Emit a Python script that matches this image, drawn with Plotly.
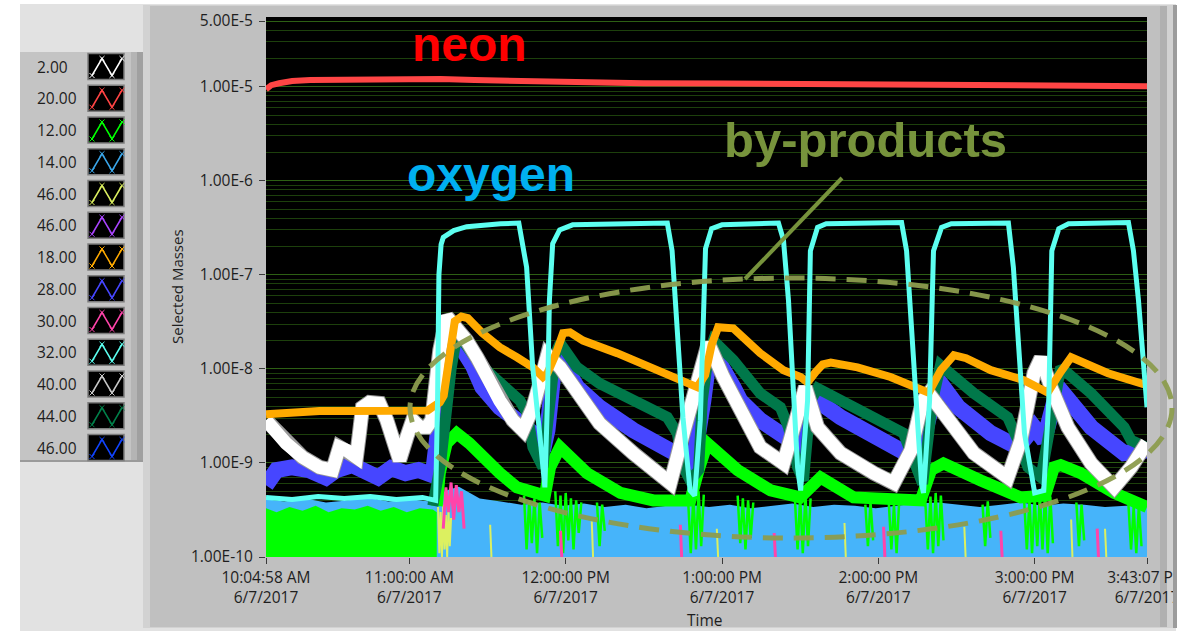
import plotly.graph_objects as go

# ---------------------------------------------------------------------------
# Mass-spectrometer trend, 6/7/2017 (times are clock times on that day)
# ---------------------------------------------------------------------------
DAY = "2017-06-07 "

# mass 20 (neon)
neon_t = ["10:04:58", "10:07", "10:10", "10:15", "10:22", "10:40", "11:00", "11:12", "11:25",
          "11:40", "12:00", "12:30", "13:00", "13:30", "14:00", "14:30", "15:00", "15:20", "15:43:07"]
neon_v = [9.4e-6, 1.04e-5, 1.09e-5, 1.15e-5, 1.18e-5, 1.19e-5, 1.21e-5, 1.21e-5, 1.18e-5,
          1.15e-5, 1.12e-5, 1.09e-5, 1.08e-5, 1.07e-5, 1.055e-5, 1.045e-5, 1.03e-5, 1.02e-5, 1.015e-5]

# mass 32 (oxygen)
o2_t = ["10:04:58", "10:15", "10:25", "10:35", "10:45", "10:55", "11:05", "11:10:05", "11:10:50",
        "11:11:20", "11:12:10", "11:13", "11:17", "11:22", "11:35", "11:42", "11:45", "11:47:20",
        "11:50", "11:52", "11:53", "11:53:45", "11:55", "11:57:40", "12:02:40", "12:39", "12:40:50",
        "12:42:45", "12:45", "12:47:45", "12:49:30", "12:51:40", "12:52:50", "12:53:40", "12:56",
        "13:00", "13:21:40", "13:23:35", "13:25:30", "13:27:30", "13:29", "13:30:10", "13:32:50",
        "13:33:55", "13:36:40", "13:40", "14:08:55", "14:10:50", "14:12:45", "14:14:40", "14:16:35",
        "14:17:20", "14:19:40", "14:21:10", "14:24:15", "14:28", "14:49:55", "14:51:50", "14:54:10",
        "14:56:05", "15:00", "15:03:30", "15:05:25", "15:06:35", "15:09:15", "15:13", "15:36",
        "15:37:55", "15:39:50", "15:42:10", "15:43:07"]
o2_v = [4.3e-10, 4.1e-10, 4.4e-10, 4.2e-10, 4.4e-10, 4.1e-10, 4.3e-10, 4.0e-10, 5e-9,
        1.0e-7, 2.1e-7, 2.5e-7, 2.95e-7, 3.25e-7, 3.5e-7, 3.55e-7, 1.2e-7, 1.04e-8,
        2.07e-9, 5.5e-10, 4.6e-9, 5.4e-8, 2.15e-7, 3.0e-7, 3.4e-7, 3.55e-7, 1.8e-7,
        2.4e-8, 3.06e-9, 5.1e-10, 4.5e-10, 2.85e-9, 5.4e-8, 1.9e-7, 3.1e-7,
        3.4e-7, 3.55e-7, 2.35e-7, 5.4e-8, 4.6e-9, 9.0e-10, 5.1e-10, 4.6e-9,
        1.8e-7, 3.2e-7, 3.5e-7, 3.6e-7, 1.8e-7, 2.4e-8, 3.06e-9, 6.0e-10,
        4.8e-10, 4.6e-9, 1.8e-7, 3.2e-7, 3.5e-7, 3.55e-7, 1.2e-7, 1.04e-8,
        2.07e-9, 4.8e-10, 5.1e-10, 4.6e-9, 1.8e-7, 3.1e-7, 3.5e-7, 3.6e-7,
        1.8e-7, 5.4e-8, 7.0e-9, 3.9e-9]

# mass 18 (water)
h2o_t = ["10:04:58", "10:14", "10:25:30", "10:37", "10:48:30", "11:00", "11:07", "11:09:20", "11:11:40",
         "11:13:10", "11:15:30", "11:17:25", "11:20", "11:22:25", "11:28", "11:34:40", "11:41:15",
         "11:47:25", "11:51:15", "11:53", "11:56", "11:59", "12:01:40", "12:06:40", "12:19:45",
         "12:32:25", "12:45", "12:50:25", "12:53:30", "12:56", "12:58:30", "13:04:20", "13:14:40",
         "13:23:35", "13:30:10", "13:32:50", "13:36", "13:38:40", "13:41:45", "13:52", "14:04:40",
         "14:16:15", "14:19:20", "14:24", "14:29", "14:33:40", "14:43:10", "14:55:50", "15:02:25",
         "15:05", "15:10", "15:14", "15:28:10", "15:42:45", "15:43:07"]
h2o_v = [3.3e-9, 3.46e-9, 3.56e-9, 3.56e-9, 3.6e-9, 3.56e-9, 3.6e-9, 4.0e-9, 4.4e-9,
         5.2e-9, 1.58e-8, 3.2e-8, 3.6e-8, 3.46e-8, 2.4e-8, 1.7e-8, 1.33e-8,
         1.04e-8, 8.2e-9, 9.0e-9, 1.4e-8, 2.4e-8, 2.45e-8, 2.0e-8, 1.47e-8,
         1.04e-8, 7.6e-9, 6.4e-9, 8.6e-9, 1.8e-8, 2.78e-8, 2.7e-8, 1.47e-8,
         9.7e-9, 8.2e-9, 7.2e-9, 9.3e-9, 1.12e-8, 1.17e-8, 1.04e-8, 8.2e-9,
         6.2e-9, 5.6e-9, 9.7e-9, 1.4e-8, 1.3e-8, 9.7e-9, 7.6e-9, 6.2e-9,
         5.6e-9, 9.3e-9, 1.33e-8, 9.0e-9, 6.8e-9, 6.7e-9]

# mass 44
co2_t = ["11:09", "11:12", "11:16", "11:18:35", "11:20:30", "11:25:50", "11:30:50", "11:37:25",
         "11:42:25", "11:45:10", "11:47:25", "11:51:15", "11:54", "11:55:55", "11:57:50", "12:04:20",
         "12:13", "12:25:55", "12:39", "12:42:50", "12:45:10", "12:47:50", "12:51", "12:52:25",
         "12:54:45", "12:56:40", "13:04:20", "13:14:40", "13:22:25", "13:25:30", "13:29", "13:31:15",
         "13:34", "13:36:40", "13:45:30", "13:58:15", "14:09:40", "14:13:35", "14:17", "14:20:50",
         "14:23:50", "14:36:40", "14:49:40", "14:53:35", "14:57:25", "15:02:25", "15:07:25", "15:10",
         "15:21:40", "15:34:20", "15:37", "15:42:45", "15:43:07"]
co2_v = [3.5e-10, 1.0e-9, 1.0e-8, 2.6e-8, 2.0e-8, 1.24e-8, 9.0e-9, 5.9e-9,
         4.6e-9, 3.4e-9, 1.47e-9, 9.0e-10, 4.6e-9, 1.4e-8, 1.88e-8, 1.04e-8,
         7.0e-9, 4.6e-9, 3.06e-9, 2.07e-9, 9.0e-10, 6.5e-10, 8.4e-10, 4.6e-9,
         1.4e-8, 2.0e-8, 1.24e-8, 5.5e-9, 3.9e-9, 2.4e-9, 9.0e-10, 6.5e-10,
         4.6e-9, 6.2e-9, 4.6e-9, 3.06e-9, 2.07e-9, 1.07e-9, 6.0e-10, 4.6e-9,
         1.09e-8, 5.5e-9, 3.06e-9, 1.74e-9, 9.0e-10, 7.0e-10, 4.6e-9, 1.04e-8,
         5.5e-9, 2.4e-9, 1.74e-9, 1.47e-9, 1.45e-9]

# mass 28
n2_t = ["10:04:58", "10:09", "10:15", "10:21:30", "10:28", "10:32", "10:38", "10:43", "10:48",
        "10:53", "10:58:30", "11:03:30", "11:09", "11:11", "11:14", "11:17", "11:20", "11:24:20",
        "11:28", "11:34:40", "11:41:15", "11:47:25", "11:51:15", "11:53", "11:55", "11:56:40",
        "12:04:20", "12:13", "12:25:55", "12:39", "12:45:10", "12:49", "12:52:50", "12:55:30",
        "13:04:20", "13:07", "13:14:40", "13:21:15", "13:26:15", "13:29:20", "13:32:50", "13:34:45",
        "13:45:30", "13:58:15", "14:08:40", "14:15:15", "14:20:15", "14:22:55", "14:30:40",
        "14:43:10", "14:53:35", "14:59:45", "15:03:35", "15:06:15", "15:09", "15:21:40",
        "15:34:20", "15:42:45", "15:43:07"]
n2_v = [5.8e-10, 8.4e-10, 9.0e-10, 8.4e-10, 7.0e-10, 8.4e-10, 9.5e-10, 8.2e-10, 7.0e-10,
        8.8e-10, 7.8e-10, 8.4e-10, 7.4e-10, 2.2e-9, 1.24e-8, 2.3e-8, 1.8e-8, 1.09e-8,
        6.4e-9, 3.9e-9, 2.85e-9, 2.07e-9, 1.36e-9, 2.23e-9, 7.6e-9, 1.47e-8,
        6.4e-9, 3.9e-9, 2.23e-9, 1.47e-9, 1.15e-9, 9.9e-10, 4.6e-9, 1.7e-8,
        6.4e-9, 4.6e-9, 2.85e-9, 2.07e-9, 1.74e-9, 1.27e-9, 3.9e-9, 5.0e-9,
        3.06e-9, 2.07e-9, 1.36e-9, 1.07e-9, 3.9e-9, 7.6e-9, 3.9e-9,
        2.07e-9, 1.47e-9, 2.4e-9, 1.74e-9, 2.85e-9, 6.4e-9, 2.4e-9,
        1.27e-9, 1.36e-9, 1.36e-9]

# mass 2
h2_t = ["10:04:58", "10:12:40", "10:19", "10:25:30", "10:30:30", "10:33:10", "10:36", "10:39:40",
        "10:40:50", "10:42", "10:44:40", "10:48:30", "10:51:20", "10:53:40", "10:56:15", "10:59",
        "11:01:15", "11:04", "11:06:40", "11:08:35", "11:09:45", "11:11:40", "11:14:20", "11:18:10",
        "11:22", "11:25:55", "11:29:45", "11:34:40", "11:39:40", "11:43:35", "11:47:25", "11:51:15",
        "11:53", "11:57:50", "12:04:20", "12:13", "12:25:55", "12:36:15", "12:40:10", "12:45:10",
        "12:50:30", "12:54:45", "13:00:30", "13:07", "13:14:40", "13:23:35", "13:29", "13:32",
        "13:36:40", "13:45:30", "13:58:15", "14:05:55", "14:12:30", "14:17", "14:19:20", "14:26:40",
        "14:36:40", "14:49:40", "14:54:40", "14:59:45", "15:02:25", "15:06:15", "15:12:45",
        "15:21:40", "15:30:30", "15:37", "15:42:45", "15:43:07"]
h2_v = [2.85e-9, 1.62e-9, 1.15e-9, 9.0e-10, 8.4e-10, 1.47e-9, 1.36e-9, 1.15e-9,
        2.07e-9, 3.9e-9, 4.4e-9, 4.3e-9, 2.85e-9, 1.62e-9, 1.07e-9, 1.88e-9,
        2.85e-9, 2.4e-9, 2.4e-9, 2.85e-9, 8.2e-9, 1.58e-8, 3.6e-8, 2.78e-8,
        2.0e-8, 1.33e-8, 8.2e-9, 4.6e-9, 2.85e-9, 2.23e-9, 3.9e-9, 9.0e-9,
        1.4e-8, 1.04e-8, 5.5e-9, 2.64e-9, 1.27e-9, 7.8e-10, 6.1e-10, 2.07e-9,
        7.6e-9, 1.88e-8, 8.2e-9, 3.9e-9, 1.47e-9, 9.9e-10, 3.06e-9, 6.4e-9,
        2.4e-9, 1.27e-9, 7.8e-10, 6.1e-10, 1.36e-9, 4.6e-9, 5.5e-9, 2.85e-9,
        1.27e-9, 7.0e-10, 1.74e-9, 9.0e-9, 1.3e-8, 6.4e-9, 2.4e-9,
        9.9e-10, 5.5e-10, 9.0e-10, 1.62e-9, 1.65e-9]

# mass 12 (carbon) - main trace after the plasma starts
c_t = ["11:10:30", "11:11:40", "11:14:20", "11:18:10", "11:23", "11:28", "11:34:40", "11:41:15",
       "11:47:25", "11:52", "11:54", "11:57:50", "12:08:10", "12:21", "12:33:40", "12:47:50",
       "12:51", "12:54:20", "13:06", "13:18:40", "13:30", "13:34", "13:37:50", "13:50:30",
       "14:16:15", "14:20:15", "14:25", "14:39:20", "14:54:40", "15:04", "15:07:25", "15:10",
       "15:17:40", "15:30:30", "15:42:45", "15:43:07"]
c_v = [3.5e-10, 7.8e-10, 1.62e-9, 2.07e-9, 1.62e-9, 1.15e-9, 7.8e-10, 5.5e-10,
       4.8e-10, 4.5e-10, 9.0e-10, 1.47e-9, 7.8e-10, 4.8e-10, 4.0e-10, 4.0e-10,
       8.4e-10, 1.62e-9, 8.4e-10, 5.1e-10, 4.3e-10, 5.8e-10, 7.0e-10, 4.3e-10,
       4.0e-10, 8.4e-10, 9.9e-10, 6.5e-10, 4.3e-10, 4.5e-10, 9.0e-10, 9.5e-10,
       7.8e-10, 4.8e-10, 3.4e-10, 3.4e-10]

# mass 12 noise floor before the plasma (upper edge of the band)
c_floor_t = ["10:04:58", "10:09", "10:14", "10:19", "10:24", "10:29", "10:34", "10:39", "10:44",
             "10:49", "10:54", "10:59", "11:04", "11:09", "11:10:30"]
c_floor_v = [3.3e-10, 3.0e-10, 3.4e-10, 3.1e-10, 3.5e-10, 3.0e-10, 3.3e-10, 3.2e-10, 3.5e-10,
             3.1e-10, 3.4e-10, 3.0e-10, 3.3e-10, 3.2e-10, 3.0e-10]

# mass 12 noise bursts after the plasma starts (None separates bursts)
c_burst_t = ["11:44", "11:45", "11:46", "11:47", "11:48", "11:49", "11:50", "11:51", None,
             "11:56", "11:57", "11:58", "11:59", "12:00", "12:01", "12:02", "12:03", "12:04", "12:05", "12:06", None,
             "12:12", "12:13", "12:14", "12:15", None,
             "12:47", "12:48", "12:49", "12:50", "12:51", "12:52", "12:53", None,
             "13:06", "13:07", "13:08", "13:09", "13:10", "13:11", "13:12", None,
             "13:28", "13:29", "13:30", "13:31", "13:32", "13:33", "13:34", None,
             "13:55", "13:56", "13:57", "13:58", None,
             "14:04", "14:05", "14:06", "14:07", "14:08", None,
             "14:18", "14:19", "14:20", "14:21", "14:22", "14:23", "14:24", "14:25", None,
             "14:40", "14:41", "14:42", "14:43", None,
             "14:56", "14:57", "14:58", "14:59", "15:00", "15:01", "15:02", "15:03", "15:04", "15:05", "15:06", "15:07", None,
             "15:16", "15:17", "15:18", "15:19", None,
             "15:36", "15:37", "15:38", "15:39", "15:40", "15:41"]
c_burst_v = [4.5e-10, 1.2e-10, 4.0e-10, 1.4e-10, 4.2e-10, 1.1e-10, 3.8e-10, 1.6e-10, None,
             5.0e-10, 1.3e-10, 4.5e-10, 1.1e-10, 4.8e-10, 1.5e-10, 4.2e-10, 1.2e-10, 4.0e-10, 1.8e-10, 3.8e-10, None,
             3.8e-10, 1.3e-10, 3.6e-10, 1.9e-10, None,
             4.0e-10, 1.1e-10, 4.5e-10, 1.2e-10, 5.0e-10, 1.3e-10, 4.6e-10, None,
             4.5e-10, 1.4e-10, 4.2e-10, 1.2e-10, 4.0e-10, 1.6e-10, 3.8e-10, None,
             4.0e-10, 1.2e-10, 4.3e-10, 1.1e-10, 4.6e-10, 1.3e-10, 4.2e-10, None,
             3.6e-10, 1.3e-10, 3.8e-10, 1.5e-10, None,
             3.8e-10, 1.2e-10, 3.6e-10, 1.1e-10, 3.9e-10, None,
             4.0e-10, 1.2e-10, 4.4e-10, 1.1e-10, 4.8e-10, 1.3e-10, 4.5e-10, 1.5e-10, None,
             3.6e-10, 1.3e-10, 3.9e-10, 1.6e-10, None,
             3.8e-10, 1.2e-10, 4.0e-10, 1.1e-10, 4.2e-10, 1.3e-10, 4.5e-10, 1.2e-10, 4.8e-10, 1.1e-10, 4.4e-10, 1.4e-10, None,
             3.8e-10, 1.3e-10, 3.6e-10, 1.5e-10, None,
             3.6e-10, 1.2e-10, 3.4e-10, 1.1e-10, 3.5e-10, 1.3e-10]

# mass 14 noise floor (upper edge of the band)
n_floor_t = ["10:04:58", "10:12", "10:20", "10:28", "10:36", "10:44", "10:52", "11:00", "11:08", "11:11",
             "11:15", "11:19", "11:23", "11:27", "11:35", "11:43", "11:51", "11:59", "12:07", "12:15",
             "12:23", "12:31", "12:39", "12:47", "12:55", "13:03", "13:11", "13:19", "13:27", "13:35",
             "13:43", "13:51", "13:59", "14:07", "14:15", "14:23", "14:31", "14:39", "14:47", "14:55",
             "15:03", "15:11", "15:19", "15:27", "15:35", "15:43:07"]
n_floor_v = [4.1e-10, 3.9e-10, 4.2e-10, 3.8e-10, 4.0e-10, 4.3e-10, 3.9e-10, 4.1e-10, 3.9e-10, 4.4e-10,
             5.2e-10, 5.6e-10, 4.8e-10, 4.2e-10, 3.9e-10, 3.6e-10, 3.8e-10, 3.5e-10, 3.7e-10, 3.4e-10,
             3.6e-10, 3.3e-10, 3.5e-10, 3.6e-10, 3.4e-10, 3.6e-10, 3.3e-10, 3.5e-10, 3.7e-10, 3.4e-10,
             3.6e-10, 3.5e-10, 3.3e-10, 3.5e-10, 3.7e-10, 3.8e-10, 3.6e-10, 3.4e-10, 3.6e-10, 3.8e-10,
             3.5e-10, 3.7e-10, 3.6e-10, 3.4e-10, 3.5e-10, 3.6e-10]

# mass 46 noise
m46_t = ["11:11", "11:11:30", "11:12", "11:12:30", "11:13", "11:13:30", "11:14", "11:14:30", "11:15",
         "11:15:30", "11:16", None, "11:31", "11:31:30", None, "12:10", "12:10:30", None,
         "12:58", "12:58:30", None, "13:47", "13:47:30", None, "14:33", "14:33:30", None,
         "15:14", "15:14:30", None, "15:27", "15:27:30"]
m46_v = [3.4e-10, 1.1e-10, 3.0e-10, 1.0e-10, 3.6e-10, 1.2e-10, 2.8e-10, 1.0e-10, 3.2e-10,
         1.3e-10, 2.6e-10, None, 2.2e-10, 1.0e-10, None, 2.4e-10, 1.0e-10, None,
         2.0e-10, 1.0e-10, None, 2.3e-10, 1.0e-10, None, 2.1e-10, 1.0e-10, None,
         2.5e-10, 1.0e-10, None, 2.0e-10, 1.0e-10]

# mass 30 noise
m30_t = ["11:13", "11:14", "11:15", "11:16", "11:17", "11:18", "11:19", "11:20", "11:21", None,
         "11:58", "11:58:30", None, "12:44", "12:44:30", None, "13:20", "13:20:30", None,
         "14:02", "14:02:30", None, "14:47", "14:47:30", None, "15:24", "15:24:30"]
m30_v = [2.0e-10, 5.5e-10, 3.0e-10, 6.2e-10, 2.5e-10, 5.8e-10, 3.0e-10, 5.0e-10, 2.0e-10, None,
         1.9e-10, 1.0e-10, None, 2.2e-10, 1.0e-10, None, 1.8e-10, 1.0e-10, None,
         2.1e-10, 1.0e-10, None, 1.9e-10, 1.0e-10, None, 2.0e-10, 1.0e-10]

# legend entries (mass numbers) and their plot colours
legend_labels = ["2.00", "20.00", "12.00", "14.00", "46.00", "46.00", "18.00",
                 "28.00", "30.00", "32.00", "40.00", "44.00", "46.00"]
legend_colors = ["#ffffff", "#ff4444", "#00ff00", "#3aa6ea", "#dcf060", "#aa44ff", "#ffaa00",
                 "#4646ff", "#ff44aa", "#5cfff0", "#c8c8c8", "#00804a", "#1144ff"]

# axis ticks
x_tick_times = ["10:04:58", "11:00:00", "12:00:00", "13:00:00", "14:00:00", "15:00:00", "15:43:07"]
x_tick_text = ["10:04:58 AM<br>6/7/2017", "11:00:00 AM<br>6/7/2017", "12:00:00 PM<br>6/7/2017",
               "1:00:00 PM<br>6/7/2017", "2:00:00 PM<br>6/7/2017", "3:00:00 PM<br>6/7/2017",
               "3:43:07 PM<br>6/7/2017"]
y_tick_vals = [5e-5, 1e-5, 1e-6, 1e-7, 1e-8, 1e-9, 1e-10]
y_tick_text = ["5.00E-5", "1.00E-5", "1.00E-6", "1.00E-7", "1.00E-8", "1.00E-9", "1.00E-10"]
y_minor_vals = [k * 10.0 ** e for e in range(-10, -4) for k in range(2, 10)] + [2e-5, 3e-5, 4e-5]

# ---------------------------------------------------------------------------
W, H = 1185, 631
L, R, T, B = 266, 38, 17, 74
PW, PH = W - L - R, H - T - B
DECADE_PX = 94.05
Y_MIN_LOG = -10
Y_MAX_LOG = Y_MIN_LOG + PH / DECADE_PX
AXIS_FLOOR = 10 ** Y_MIN_LOG

UI_FONT = "Open Sans"
TXT = "#1e1e1e"


def stamp(times):
    return [None if t is None else DAY + t for t in times]


def px(x):
    return (x - L) / PW


def py(y):
    return (H - B - y) / PH


fig = go.Figure()


def add_band(t, v, color):
    ts = stamp(t)
    fig.add_trace(go.Scatter(x=ts + ts[::-1], y=v + [AXIS_FLOOR] * len(v), fill="toself",
                             fillcolor=color, mode="lines", line=dict(width=0),
                             hoverinfo="skip", showlegend=False))


def add_line(t, v, color, width, opacity=1.0):
    fig.add_trace(go.Scatter(x=stamp(t), y=v, mode="lines", opacity=opacity,
                             line=dict(color=color, width=width), connectgaps=False,
                             hoverinfo="skip", showlegend=False))


# noise floor
add_band(n_floor_t, n_floor_v, "#46b4fa")
add_band(c_floor_t, c_floor_v, "#00ff00")
add_line(c_burst_t, c_burst_v, "#00ff00", 2.5)
add_line(m46_t, m46_v, "#dcf060", 2)
add_line(m30_t, m30_v, "#ff44aa", 3)

# main traces
add_line(c_t, c_v, "#00ff00", 12)
add_line(n2_t, n2_v, "#4646ff", 16)
add_line(co2_t, co2_v, "#00784a", 11)
add_line(h2_t, h2_v, "#9a9a9a", 15)
add_line(h2_t, h2_v, "#ffffff", 13)
add_line(h2o_t, h2o_v, "#ffaa00", 8)
add_line(o2_t, o2_v, "#5cfff0", 5)
add_line(neon_t, neon_v, "#ff4545", 6)

shapes = []


def rect(x0, y0, x1, y1, fill, line_color=None, lw=0, layer="below"):
    shapes.append(dict(type="rect", xref="paper", yref="paper", layer=layer,
                       x0=px(x0), x1=px(x1), y0=py(y1), y1=py(y0), fillcolor=fill,
                       line=dict(color=line_color or fill, width=lw)))


# window background and panels
rect(20, 4, 1176, 631, "#e2e2e2")
rect(143, 5, 1176, 628, "#d2d2d2")
rect(150, 6, 1160, 627, "#c0c0c0")
rect(1160, 6, 1167, 627, "#b0b0b0")
rect(20, 52, 143, 462, "#c4c4c4")
rect(131, 52, 137, 462, "#b4b4b4")
rect(137, 52, 143, 462, "#a0a0a0")
rect(20, 460, 143, 462, "#9a9a9a")
rect(L, T, L + PW, T + PH, "#000000")
# right window frame, drawn over the end of the last time label
rect(1173, 5, 1177, 628, "#9c9c9c", layer="above")
rect(1177, 0, 1185, 631, "#ffffff", layer="above")


def path(points):
    return "M " + " L ".join(f"{px(x):.5f},{py(y):.5f}" for x, y in points)


# legend swatches
annotations = []
for i, (lab, col) in enumerate(zip(legend_labels, legend_colors)):
    yc = 66.5 + 31.75 * i
    rect(88, yc - 13, 124, yc + 13, "#000000", "#7d7d7d", 1.5, layer="above")
    pts = [(92, yc + 9), (102, yc - 8), (112, yc + 9), (122, yc - 8)]
    shapes.append(dict(type="path", xref="paper", yref="paper", layer="above",
                       path=path(pts), line=dict(color=col, width=1.5)))
    cross = " ".join(path([(x - 2.5, y - 2.5), (x + 2.5, y + 2.5)]) + " " +
                     path([(x - 2.5, y + 2.5), (x + 2.5, y - 2.5)]) for x, y in pts)
    shapes.append(dict(type="path", xref="paper", yref="paper", layer="above",
                       path=cross, line=dict(color=col, width=1)))
    annotations.append(dict(text=lab, x=px(35), y=py(yc), xref="paper", yref="paper",
                            xanchor="left", yanchor="middle", showarrow=False,
                            font=dict(family=UI_FONT, size=15.5, color=TXT)))

# by-products ellipse and pointer
shapes.append(dict(type="circle", xref="paper", yref="paper", layer="above",
                   x0=px(410), x1=px(1172), y0=py(538), y1=py(278),
                   line=dict(color="rgba(140,156,78,0.95)", width=5, dash="20px,11px")))
shapes.append(dict(type="line", xref="paper", yref="paper", layer="above",
                   x0=px(745), y0=py(279), x1=px(842), y1=py(178),
                   line=dict(color="#77933c", width=4)))

LABEL_FONT = "Liberation Sans"
annotations += [
    dict(text="<b>neon</b>", x=px(469), y=py(44), xref="paper", yref="paper",
         xanchor="center", yanchor="middle", showarrow=False,
         font=dict(family=LABEL_FONT, size=48, color="#ff0000")),
    dict(text="<b>oxygen</b>", x=px(491), y=py(174), xref="paper", yref="paper",
         xanchor="center", yanchor="middle", showarrow=False,
         font=dict(family=LABEL_FONT, size=48, color="#00b0f0")),
    dict(text="<b>by-products</b>", x=px(865), y=py(140), xref="paper", yref="paper",
         xanchor="center", yanchor="middle", showarrow=False,
         font=dict(family=LABEL_FONT, size=49, color="#77933c")),
    dict(text="Selected Masses", x=px(177), y=py(287), xref="paper", yref="paper",
         xanchor="center", yanchor="middle", showarrow=False, textangle=-90,
         font=dict(family=UI_FONT, size=15, color=TXT)),
    dict(text="Time", x=px(705), y=py(620), xref="paper", yref="paper",
         xanchor="center", yanchor="middle", showarrow=False,
         font=dict(family=UI_FONT, size=15.5, color=TXT)),
]

fig.update_layout(
    width=W, height=H, autosize=False,
    margin=dict(l=L, r=R, t=T, b=B, pad=0, autoexpand=False),
    paper_bgcolor="#ffffff", plot_bgcolor="#000000",
    showlegend=False, hovermode=False,
    shapes=shapes, annotations=annotations,
    xaxis=dict(type="date", range=[DAY + "10:04:58", DAY + "15:43:07"],
               tickmode="array", tickvals=stamp(x_tick_times), ticktext=x_tick_text,
               ticks="outside", ticklen=6, tickcolor="#3a3a3a", tickwidth=1,
               ticklabeloverflow="allow", automargin=False,
               showgrid=False, zeroline=False, showline=False,
               tickfont=dict(family=UI_FONT, size=15.5, color=TXT)),
    yaxis=dict(type="log", range=[Y_MIN_LOG, Y_MAX_LOG],
               tickmode="array", tickvals=y_tick_vals, ticktext=y_tick_text,
               ticks="outside", ticklen=6, tickcolor="#3a3a3a", tickwidth=1,
               ticklabelstandoff=3, automargin=False,
               showgrid=True, gridcolor="#2d5f14", gridwidth=1,
               minor=dict(tickmode="array", tickvals=y_minor_vals, showgrid=True,
                          gridcolor="#1d400c", gridwidth=1, ticks=""),
               zeroline=False, showline=False,
               tickfont=dict(family=UI_FONT, size=15.5, color=TXT)),
)

fig.write_html("out.html")
